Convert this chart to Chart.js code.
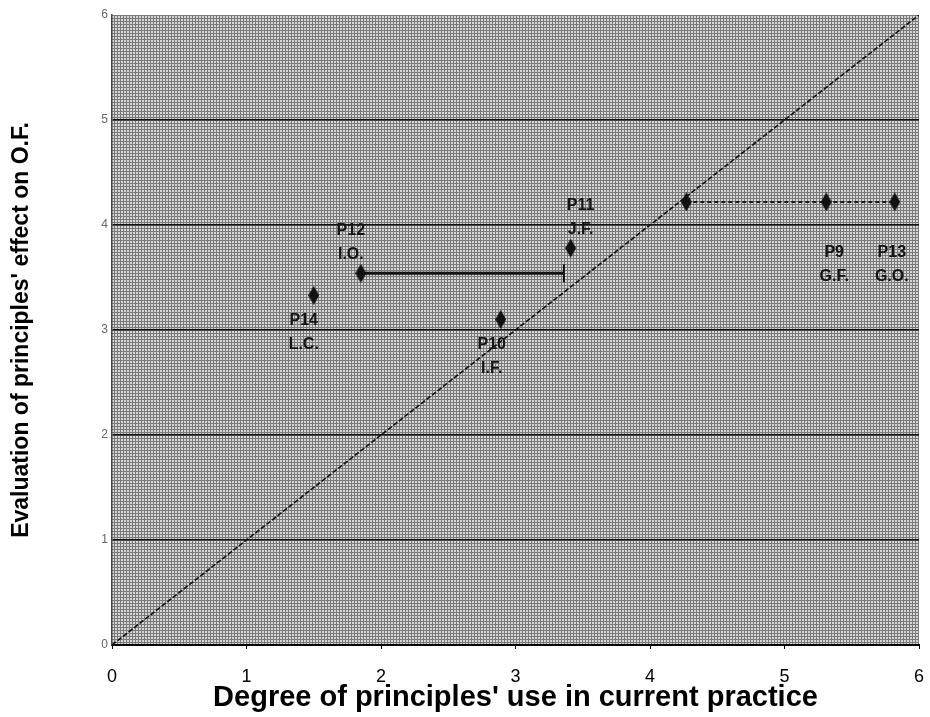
<!DOCTYPE html>
<html>
<head>
<meta charset="utf-8">
<script src="https://cdn.jsdelivr.net/npm/chart.js@4/dist/chart.umd.min.js"></script>
<style>
  html, body { margin: 0; padding: 0; background: #fff; }
  #wrap { width: 930px; height: 717px; }
</style>
</head>
<body>
<div id="wrap"><canvas id="c" width="930" height="717"></canvas></div>
<script>
// Principles: id, short name, degree of use (x) and evaluated effect (y)
const principleIds  = ['P14', 'P12', 'P11', 'P10', 'P9', 'P13'];
const principleAbbr = ['L.C.', 'I.O.', 'J.F.', 'I.F.', 'G.F.', 'G.O.'];
const useDegree     = [1.5, 1.85, 3.41, 2.89, 5.31, 5.82];
const effectEval    = [3.33, 3.54, 3.78, 3.10, 4.22, 4.22];

// Horizontal ranges: I.O. spread and the G.* group
const rangeIO = [1.85, 3.36];
const rangeG  = [4.27, 5.82];

// Reference diagonal (use = effect)
const diagonal = [0, 6];

const FONT = '"Liberation Sans", Arial, Helvetica, sans-serif';

// Tall diamond marker
function makeDiamond(w, h) {
  const c = document.createElement('canvas');
  c.width = w; c.height = h;
  const g = c.getContext('2d');
  g.fillStyle = '#111';
  g.beginPath();
  g.moveTo(w / 2, 0); g.lineTo(w, h / 2); g.lineTo(w / 2, h); g.lineTo(0, h / 2);
  g.closePath(); g.fill();
  return c;
}
const diamond = makeDiamond(11, 19);

// Halftone-like grey fill for the plotting area
function makeScreen() {
  const c = document.createElement('canvas');
  c.width = 3; c.height = 3;
  const g = c.getContext('2d');
  g.fillStyle = '#d6d6d6'; g.fillRect(0, 0, 3, 3);
  g.fillStyle = '#7a7a7a';
  g.fillRect(0, 0, 3, 1);
  g.fillRect(0, 0, 1, 3);
  return c;
}

const plotBackground = {
  id: 'plotBackground',
  beforeDraw(chart) {
    const { ctx, chartArea: a } = chart;
    ctx.save();
    ctx.fillStyle = ctx.createPattern(makeScreen(), 'repeat');
    ctx.fillRect(a.left, a.top, a.right - a.left, a.bottom - a.top);
    ctx.restore();
  }
};

// Two-line principle labels placed around each marker (pixel offsets)
const labelPlacement = {
  P14: [-10, 25], P12: [-10, -43], P11: [10, -43],
  P10: [-9, 25],  P9: [8, 51],     P13: [-3, 51]
};
const pointLabels = {
  id: 'pointLabels',
  afterDatasetsDraw(chart) {
    const { ctx, scales: { x, y } } = chart;
    ctx.save();
    ctx.fillStyle = '#141414';
    ctx.font = 'bold 16px ' + FONT;
    ctx.textAlign = 'center';
    ctx.textBaseline = 'middle';
    principleIds.forEach((id, i) => {
      const [dx, dy] = labelPlacement[id];
      const px = x.getPixelForValue(useDegree[i]) + dx;
      const py = y.getPixelForValue(effectEval[i]) + dy;
      ctx.fillText(id, px, py);
      ctx.fillText(principleAbbr[i], px, py + 24);
    });
    ctx.restore();
  }
};

const pt = i => ({ x: useDegree[i], y: effectEval[i] });

new Chart(document.getElementById('c'), {
  type: 'scatter',
  data: {
    datasets: [
      {
        data: diagonal.map(v => ({ x: v, y: v })),
        showLine: true,
        borderColor: '#111',
        borderWidth: 1.6,
        borderDash: [5, 2],
        pointRadius: 0
      },
      {
        data: [{ x: rangeIO[0], y: effectEval[1] }, { x: rangeIO[1], y: effectEval[1] }],
        showLine: true,
        borderColor: '#111',
        borderWidth: 3,
        pointStyle: [diamond, 'line'],
        pointRotation: [0, 90],
        pointRadius: [6, 9],
        pointBorderColor: '#111',
        pointBorderWidth: 2
      },
      {
        data: [{ x: rangeG[0], y: effectEval[4] }, pt(4), { x: rangeG[1], y: effectEval[5] }],
        showLine: true,
        borderColor: '#1a1a1a',
        borderWidth: 2,
        borderDash: [4, 3],
        pointStyle: diamond,
        pointRadius: 6
      },
      {
        data: [pt(0), pt(2), pt(3)],
        showLine: false,
        pointStyle: diamond,
        pointRadius: 6
      }
    ]
  },
  options: {
    responsive: false,
    animation: false,
    layout: { padding: { top: 15, right: 8, left: 0, bottom: 0 } },
    plugins: { legend: { display: false }, tooltip: { enabled: false } },
    scales: {
      x: {
        type: 'linear', min: 0, max: 6,
        ticks: { stepSize: 1, color: '#000', padding: 17, font: { family: FONT, size: 18 } },
        grid: { drawOnChartArea: false, drawTicks: true, tickLength: 4, color: '#000' },
        border: { color: '#000', width: 2 },
        title: {
          display: true, text: "Degree of principles' use in current practice",
          color: '#000', font: { family: FONT, size: 29, weight: 'bold' },
          padding: { top: 0, bottom: 2 }
        },
        afterFit: s => { s.height = 72; s.paddingRight = 0; s.paddingLeft = 0; }
      },
      y: {
        type: 'linear', min: 0, max: 6,
        ticks: { stepSize: 1, color: '#666', padding: 4, font: { family: FONT, size: 12 } },
        grid: {
          drawTicks: false, lineWidth: 1.6,
          color: c => (c.tick && c.tick.value > 0 && c.tick.value < 6) ? '#111' : 'rgba(0,0,0,0)'
        },
        border: { color: '#444', width: 1.5 },
        title: {
          display: true, text: "Evaluation of principles' effect on O.F.",
          color: '#000', font: { family: FONT, size: 23, weight: 'bold' },
          padding: { top: 8, bottom: 0 }
        },
        afterFit: s => { s.width = 112; }
      }
    }
  },
  plugins: [plotBackground, pointLabels]
});
</script>
</body>
</html>
